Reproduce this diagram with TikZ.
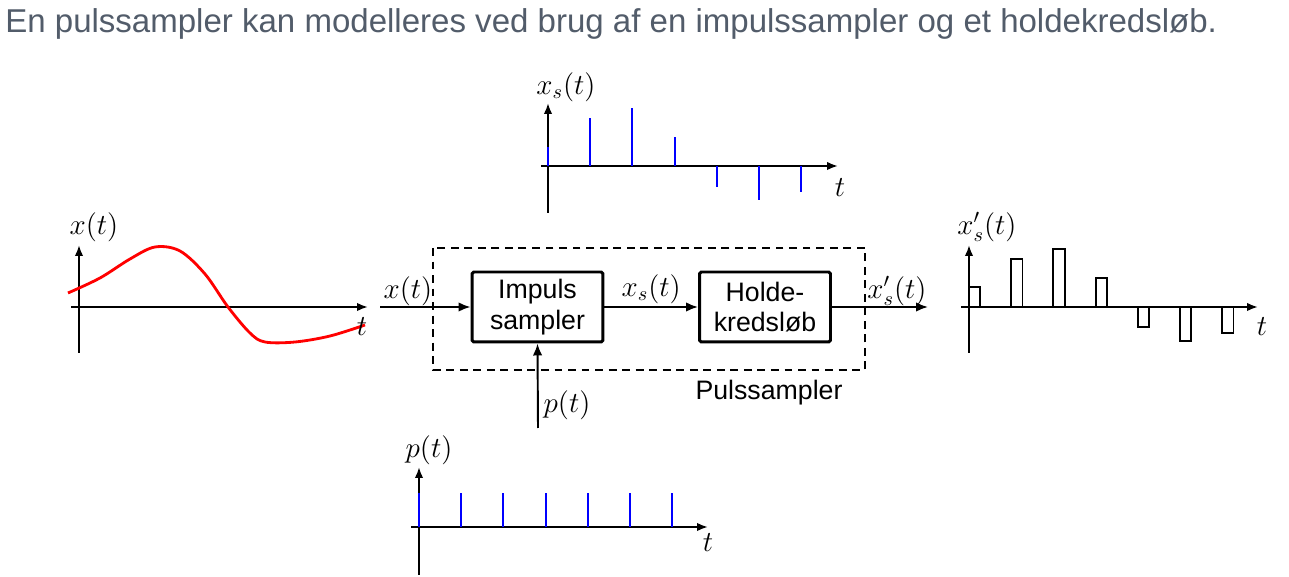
\documentclass[tikz,border=0pt]{standalone}
\usepackage{fontspec}
\usepackage{tikz}
\usetikzlibrary{arrows.meta,positioning}
\newfontfamily\arial{Liberation Sans}
\definecolor{headgray}{RGB}{82,92,106}

\begin{document}
\begin{tikzpicture}[
    x=0.02cm,y=-0.02cm,
    axis/.style={line width=1.1pt,-{Latex[length=2.2mm,width=1.7mm]}},
    sig/.style={line width=1.1pt,-{Latex[length=2.4mm,width=1.9mm]}},
    block/.style={draw,line width=1.7pt,rounded corners=1pt,minimum width=2.62cm,
      minimum height=1.4cm,align=center,font=\arial\fontsize{15.2}{17.5}\selectfont},
    lbl/.style={inner sep=1pt,font=\Large,scale=1.15},
    stem/.style={blue,line width=1.1pt},
    pulse/.style={draw,line width=1.1pt}
  ]
    \useasboundingbox (0,0) rectangle (1289,577);

    % Heading
    \node[anchor=base west,inner sep=0,text=headgray,font=\arial\fontsize{18.8}{22}\selectfont]
      (head) at (5,33) {En pulssampler kan modelleres ved brug af en impulssampler og et holdekredsløb.};

    % Input signal x(t)
    \draw[axis] (79,353) -- (79,245);
    \draw[axis] (71,307) -- (368,307);
    \draw[red,line width=1.6pt] plot[smooth,tension=0.55] coordinates
      {(68,293) (100,278) (130,259) (155,247) (180,251) (205,274) (228,307)
       (250,333) (265,342) (295,342) (330,336) (365,325)};
    \node[lbl] (xlab) at (94,227) {$x(t)$};
    \node[lbl] (xt) at (362,327) {$t$};

    % Impulse sampled signal x_s(t)
    \draw[axis] (548,213) -- (548,103);
    \draw[axis] (541,166) -- (838,166);
    \foreach \h [count=\i from 0] in {19,48,58,29,-21,-34,-26}
      \draw[stem] (548+42.2*\i,166) -- ++(0,-\h);
    \node[lbl] (xslab) at (566,87) {$x_s(t)$};
    \node[lbl] (xst) at (840,188) {$t$};

    % Held signal x_s'(t)
    \draw[axis] (969,353) -- (969,245);
    \draw[axis] (961,307) -- (1258,307);
    \foreach \h [count=\i from 0] in {20,48,58,29,-20,-34,-26}
      \draw[pulse] (969+42.2*\i,307) rectangle ++(11.3,-\h);
    \node[lbl] (xholdlab) at (987,227) {$x_s'(t)$};
    \node[lbl] (xholdt) at (1262,327) {$t$};

    % Impulse train p(t)
    \draw[axis] (419,575) -- (419,467);
    \draw[axis] (411,527) -- (708,527);
    \foreach \i in {0,...,6}
      \draw[stem] (419+42.2*\i,527) -- ++(0,-34);
    \node[lbl] (plab) at (429,450) {$p(t)$};
    \node[lbl] (pt) at (708,543) {$t$};

    % Block diagram
    \draw[line width=1.1pt,dash pattern=on 4.5pt off 3.2pt] (433,248) rectangle (865,370);
    \node[block] (imp) at (537.5,307) {Impuls\\sampler};
    \node[block] (hold) at (765,307) {Holde-\\kredsløb};
    \coordinate (in) at (380,307);
    \coordinate (out) at (928,307);
    \coordinate (pin) at (538,428);

    \draw[sig] (in) -- (imp);
    \draw[sig] (imp) -- (hold) node[midway,above,lbl] (mid) {$x_s(t)$};
    \draw[sig] (hold) -- (out);
    \draw[sig] (pin) -- (imp.south);
    \node[lbl] (inlab) at (408,291) {$x(t)$};
    \node[lbl] (outlab) at (897,291) {$x_s'(t)$};
    \node[lbl] (pinlab) at (567,405) {$p(t)$};
    \node[font=\arial\fontsize{15.2}{17.5}\selectfont] (frame) at (769,393) {Pulssampler};

  \end{tikzpicture}
\end{document}
